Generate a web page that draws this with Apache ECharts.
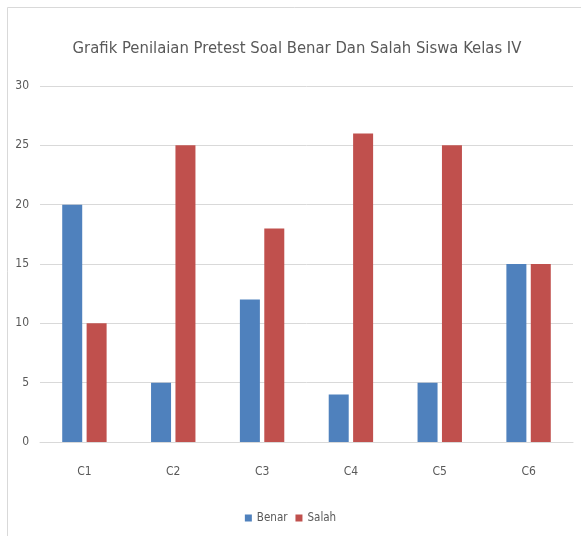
<!DOCTYPE html>
<html><head><meta charset="utf-8">
<script src="https://cdn.jsdelivr.net/npm/echarts@6/dist/echarts.min.js"></script>
<style>html,body{margin:0;padding:0;background:#fff}#c{width:581px;height:536px}</style>
</head><body><div id="c"></div>
<script>
const categories = ["C1","C2","C3","C4","C5","C6"];
const benar = [20,5,12,4,5,15];
const salah = [10,25,18,26,25,15];
const yTicks = [0,5,10,15,20,25,30];
const FONT = "'Liberation Sans Narrow', 'DejaVu Sans Condensed', sans-serif";
const chart = echarts.init(document.getElementById('c'));
chart.setOption({
  animation:false,
  backgroundColor:'#fff',
  title:{text:'Grafik Penilaian Pretest Soal Benar Dan Salah Siswa Kelas IV',left:292,top:35,textAlign:'center',
    textStyle:{fontFamily:FONT,fontSize:16.5,fontWeight:'normal',color:'#595959'}},
  graphic:[
    {type:'line',shape:{x1:7.5,y1:7.5,x2:581,y2:7.5},style:{stroke:'#d9d9d9',lineWidth:1}},
    {type:'line',shape:{x1:7.5,y1:7.5,x2:7.5,y2:536},style:{stroke:'#d9d9d9',lineWidth:1}}
  ],
  grid:{left:40,right:8,top:86,bottom:94,containLabel:false},
  legend:{bottom:7,left:'center',itemWidth:7,itemHeight:7,itemGap:8,
    textStyle:{fontFamily:FONT,fontSize:11.5,color:'#595959'},
    data:[{name:'Benar',icon:'rect'},{name:'Salah',icon:'rect'}]},
  xAxis:{type:'category',data:categories,
    axisLine:{lineStyle:{color:'#d9d9d9'}},axisTick:{show:false},
    axisLabel:{fontFamily:FONT,fontSize:12,color:'#595959',margin:24}},
  yAxis:{type:'value',min:0,max:30,interval:5,
    axisLine:{show:false},axisTick:{show:false},
    splitLine:{lineStyle:{color:'#d9d9d9'}},
    axisLabel:{fontFamily:FONT,fontSize:12,color:'#595959',margin:11}},
  series:[
    {name:'Benar',type:'bar',data:benar,barWidth:20,barGap:'22%',itemStyle:{color:'#4f81bd'}},
    {name:'Salah',type:'bar',data:salah,barWidth:20,itemStyle:{color:'#c0504d'}}
  ]
});
</script></body></html>
